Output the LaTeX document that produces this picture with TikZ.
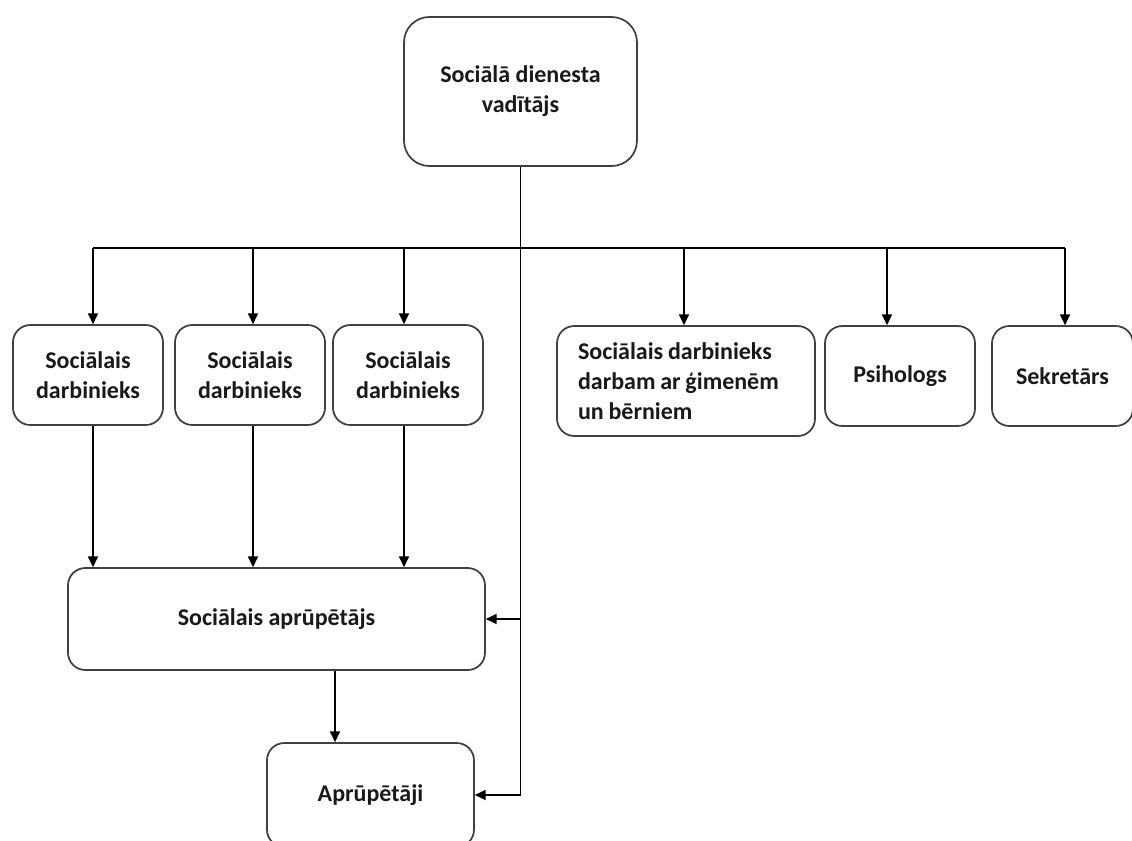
\documentclass[tikz,border=0pt]{standalone}
\usepackage{fontspec}
\setmainfont{Carlito}
\usetikzlibrary{arrows.meta}
\tikzset{
    box/.style={draw=black!75, line width=1.3pt, rounded corners=13pt, fill=white,
        align=center, inner sep=0pt, text=black!90,
        font=\bfseries\fontsize{18}{22.5}\selectfont},
    staff/.style={box, minimum width=112.5pt, minimum height=75pt}
}
\begin{document}
\begin{tikzpicture}[x=0.75pt, y=-0.75pt, >={Triangle[length=8pt,width=7.5pt]}, line width=1pt]
    \useasboundingbox (0,0) rectangle (1132,840);
    \clip (0,0) rectangle (1132,840);
    \fill[white] (0,0) rectangle (1132,840);
    % head of the service
    \node[box, minimum width=174.75pt, minimum height=111.75pt, rounded corners=19pt] (boss) at (520.5,91.5) {Sociālā dienesta\\vadītājs};
    % second row
    \node[staff] (sd1) at (88,375) {Sociālais\\darbinieks};
    \node[staff] (sd2) at (250,375) {Sociālais\\darbinieks};
    \node[staff] (sd3) at (408,375) {Sociālais\\darbinieks};
    \node[box, align=left, text width=162pt, inner xsep=15.75pt, minimum height=82.5pt] (sdf) at (686,381) {\spaceskip=0.2em Sociālais darbinieks\\darbam ar ģimenēm\\un bērniem};
    \node[staff] (psy) at (900,376) {Psihologs};
    \node[staff, minimum width=105.75pt] (sec) at (1062.5,376) {Sekretārs};
    % lower part
    \node[box, minimum width=312.75pt, minimum height=76.5pt] (care) at (276.5,619) {Sociālais aprūpētājs};
    \node[box, minimum width=155.25pt, minimum height=78pt] (carers) at (370.5,795) {Aprūpētāji};
\foreach \n/\x in {sd1/93, sd2/253, sd3/404, sdf/684, psy/887, sec/1065}
{
    \coordinate (t\n) at (\x,248);
    \draw[->] (t\n) -- (t\n |- \n.north);
}
    \draw (tsd1) -- (tsec);
\foreach \n in {sd1, sd2, sd3}
{
    \draw[->] (\n.south -| t\n) -- (care.north -| t\n);
}
    \draw (boss.south) -- (boss.south |- carers.east) coordinate (r2);
    \draw[->] (r2) -- (carers.east);
    \draw[->] (boss.south |- care.east) -- (care.east);
    \coordinate (cx) at (335,0);
    \draw[->] (care.south -| cx) -- (carers.north -| cx);
\end{tikzpicture}
\end{document}
